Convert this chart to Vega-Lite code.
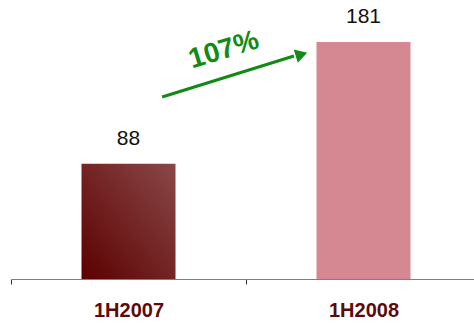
{
  "$schema": "https://vega.github.io/schema/vega-lite/v6.json",
  "autosize": {"type": "none"},
  "padding": {"left": 11, "top": 17, "right": 0, "bottom": 45},
  "width": 470,
  "height": 262,
  "background": "white",
  "config": {
    "view": {"stroke": null},
    "font": "Liberation Sans"
  },
  "datasets": {
    "halves": [
      {"period": "1H2007", "value": 88},
      {"period": "1H2008", "value": 181}
    ],
    "growthArrow": [
      {"xs": 0.643, "ys": 138.9, "xe": 1.204, "ye": 170.2, "xh": 1.236, "yh": 171.4}
    ],
    "growthLabel": [
      {"pos": 0.906, "level": 174.5, "label": "107%"}
    ]
  },
  "layer": [
    {
      "layer": [
        {
          "data": {"name": "halves"},
          "transform": [{"filter": "datum.period === '1H2007'"}],
          "mark": {
            "type": "bar",
            "width": {"band": 0.4},
            "color": {
              "gradient": "linear",
              "x1": 0, "y1": 1, "x2": 1, "y2": 0,
              "stops": [
                {"offset": 0, "color": "#5c0000"},
                {"offset": 1, "color": "#8a4848"}
              ]
            }
          },
          "encoding": {
            "x": {
              "field": "period", "type": "nominal",
              "sort": ["1H2007", "1H2008"],
              "scale": {"domain": ["1H2007", "1H2008"], "paddingInner": 0, "paddingOuter": 0},
              "axis": {
                "title": null,
                "domainColor": "#7f7f7f",
                "tickColor": "#333333",
                "tickSize": 5,
                "tickBand": "extent",
                "labelAngle": 0,
                "labelFont": "Liberation Sans",
                "labelFontSize": 20,
                "labelFontWeight": "bold",
                "labelColor": "#5c0a0a",
                "labelPadding": 16
              }
            },
            "y": {
              "field": "value", "type": "quantitative",
              "scale": {"domain": [0, 200]},
              "axis": null
            }
          }
        },
        {
          "data": {"name": "halves"},
          "transform": [{"filter": "datum.period === '1H2008'"}],
          "mark": {"type": "bar", "width": {"band": 0.4}, "color": "#d58892"},
          "encoding": {
            "x": {"field": "period", "type": "nominal", "sort": ["1H2007", "1H2008"]},
            "y": {"field": "value", "type": "quantitative"}
          }
        },
        {
          "data": {"name": "halves"},
          "mark": {"type": "text", "baseline": "alphabetic", "dy": -19, "fontSize": 21, "color": "#111111", "font": "Liberation Sans"},
          "encoding": {
            "x": {"field": "period", "type": "nominal", "sort": ["1H2007", "1H2008"]},
            "y": {"field": "value", "type": "quantitative"},
            "text": {"field": "value", "type": "quantitative"}
          }
        }
      ]
    },
    {
      "layer": [
        {
          "data": {"name": "growthArrow"},
          "mark": {"type": "rule", "color": "#138a13", "strokeWidth": 3},
          "encoding": {
            "x": {"field": "xs", "type": "quantitative", "scale": {"domain": [0, 2]}, "axis": null},
            "x2": {"field": "xe"},
            "y": {"field": "ys", "type": "quantitative"},
            "y2": {"field": "ye"}
          }
        },
        {
          "data": {"name": "growthArrow"},
          "mark": {"type": "point", "shape": "triangle-right", "filled": true, "opacity": 1, "color": "#138a13", "size": 190, "angle": -17},
          "encoding": {
            "x": {"field": "xh", "type": "quantitative"},
            "y": {"field": "yh", "type": "quantitative"}
          }
        },
        {
          "data": {"name": "growthLabel"},
          "mark": {"type": "text", "angle": -17, "fontSize": 28, "fontWeight": "bold", "color": "#138a13", "font": "Liberation Sans", "align": "center", "baseline": "middle"},
          "encoding": {
            "x": {"field": "pos", "type": "quantitative"},
            "y": {"field": "level", "type": "quantitative"},
            "text": {"field": "label"}
          }
        }
      ]
    }
  ],
  "resolve": {"scale": {"x": "independent"}}
}
